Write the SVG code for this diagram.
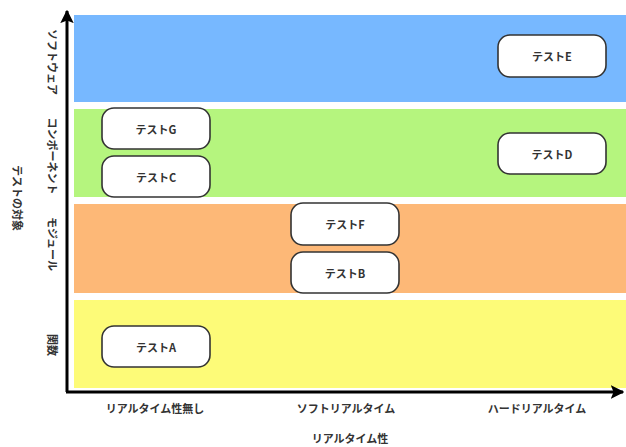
<svg xmlns="http://www.w3.org/2000/svg" width="626" height="447" viewBox="0 0 626 447">
<defs>
<style>
.t{font-family:"Noto Sans CJK JP","Noto Sans",sans-serif;font-size:11px;font-weight:bold;fill:#333;}
.n rect{fill:#fff;stroke:#333;stroke-width:1.6;}
.n text{font-family:"Noto Sans CJK JP","Noto Sans",sans-serif;font-size:11px;font-weight:bold;fill:#333;text-anchor:middle;dominant-baseline:central;}
.ax{stroke:#000;stroke-width:3;fill:none;}
</style>
<marker id="ah" viewBox="0 0 10 10" refX="9" refY="5" markerWidth="4.5" markerHeight="4.5" orient="auto" markerUnits="strokeWidth">
<path d="M0,0 L10,5 L0,10 L2,5 Z" fill="#000"/>
</marker>
</defs>
<rect width="626" height="447" fill="#fff"/>
<g id="bands">
<rect x="74" y="15" width="552" height="87" fill="#77B8FF"/>
<rect x="74" y="109" width="552" height="88" fill="#B5F57E"/>
<rect x="74" y="204" width="552" height="89" fill="#FDB877"/>
<rect x="74" y="300" width="552" height="88" fill="#FDFB78"/>
</g>
<g id="connectors">
<path class="ax" d="M67,392 L67,11" marker-end="url(#ah)"/>
<path class="ax" d="M66,392 L623,392" marker-end="url(#ah)"/>
</g>
<g id="nodeE" class="n"><rect x="498" y="35" width="108" height="42" rx="12"/><text x="552" y="56">テストE</text></g>
<g id="nodeG" class="n"><rect x="102" y="108" width="108" height="41" rx="12"/><text x="156" y="128.5">テストG</text></g>
<g id="nodeC" class="n"><rect x="102" y="156" width="108" height="41" rx="12"/><text x="156" y="176.5">テストC</text></g>
<g id="nodeD" class="n"><rect x="498" y="133" width="108" height="41" rx="12"/><text x="552" y="153.5">テストD</text></g>
<g id="nodeF" class="n"><rect x="291" y="203" width="108" height="42" rx="12"/><text x="345" y="224">テストF</text></g>
<g id="nodeB" class="n"><rect x="291" y="252" width="108" height="41" rx="12"/><text x="345" y="272.5">テストB</text></g>
<g id="nodeA" class="n"><rect x="102" y="326" width="108" height="41" rx="12"/><text x="156" y="346.5">テストA</text></g>
<g id="labels">
<text class="t" transform="translate(48,62) rotate(90)" text-anchor="middle">ソフトウェア</text>
<text class="t" transform="translate(48,156) rotate(90)" text-anchor="middle">コンポーネント</text>
<text class="t" transform="translate(48,244) rotate(90)" text-anchor="middle">モジュール</text>
<text class="t" transform="translate(48,345) rotate(90)" text-anchor="middle">関数</text>
<text class="t" transform="translate(13,198) rotate(90)" text-anchor="middle">テストの対象</text>
<text class="t" x="155" y="413" text-anchor="middle">リアルタイム性無し</text>
<text class="t" x="346" y="413" text-anchor="middle">ソフトリアルタイム</text>
<text class="t" x="537" y="413" text-anchor="middle">ハードリアルタイム</text>
<text class="t" x="350" y="443" text-anchor="middle">リアルタイム性</text>
</g>
</svg>
